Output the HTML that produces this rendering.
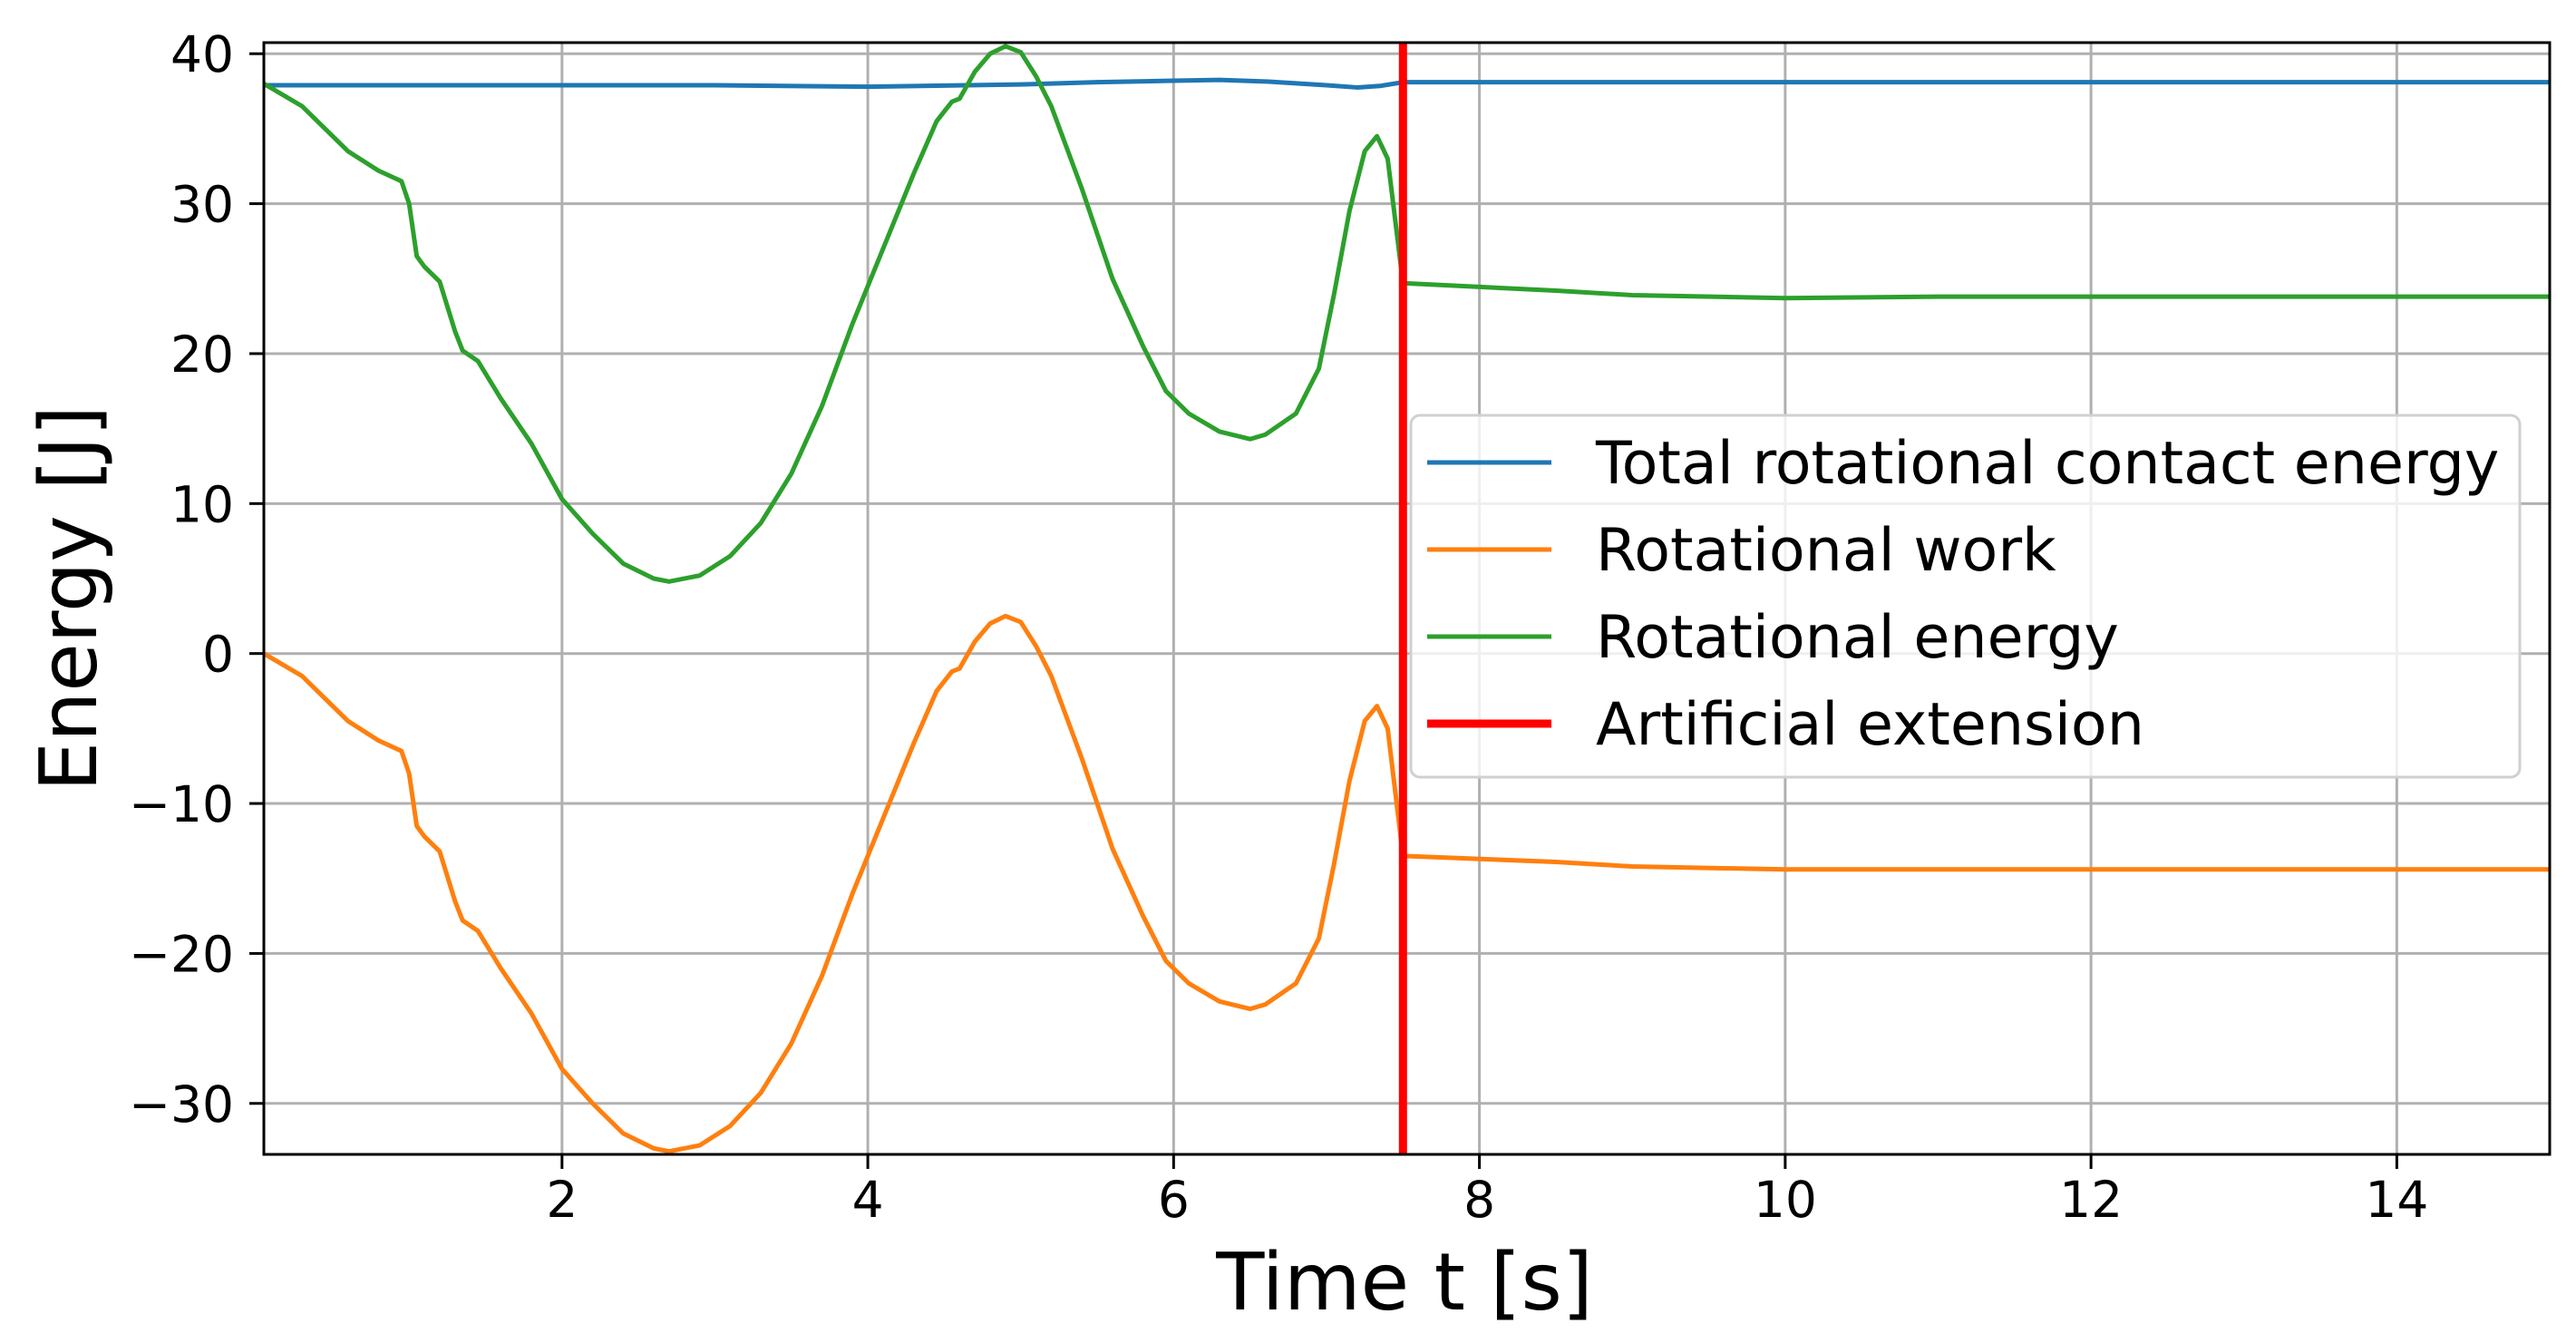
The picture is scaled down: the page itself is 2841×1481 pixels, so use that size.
<!DOCTYPE html>
<html><head><meta charset="utf-8"><style>
html,body{margin:0;padding:0;background:#fff;width:2841px;height:1481px;overflow:hidden}
text{font-family:"DejaVu Sans","Liberation Sans",sans-serif}
</style></head><body>
<svg id="chart" width="2841" height="1481" xmlns="http://www.w3.org/2000/svg"></svg>
<script>
const xTicks=[2,4,6,8,10,12,14];
const yTicks=[-30,-20,-10,0,10,20,30,40];
const tTotal=[0.05,1,2,3,4,5,5.5,6,6.3,6.6,7.0,7.2,7.35,7.5,8,10,12,15];
const vTotal=[37.9,37.9,37.9,37.9,37.8,37.95,38.1,38.2,38.25,38.15,37.9,37.75,37.85,38.1,38.1,38.1,38.1,38.1];
const tRot=[0.05,0.3,0.6,0.8,0.95,1.0,1.05,1.1,1.2,1.3,1.35,1.45,1.6,1.8,2.0,2.2,2.4,2.6,2.7,2.9,3.1,3.3,3.5,3.7,3.9,4.1,4.3,4.45,4.55,4.6,4.7,4.8,4.9,5.0,5.1,5.2,5.4,5.6,5.8,5.95,6.1,6.3,6.5,6.6,6.8,6.95,7.05,7.15,7.25,7.33,7.4,7.5,8.5,9.0,10,11,15];
const vRotEnergy=[38,36.5,33.5,32.2,31.5,30.0,26.5,25.8,24.8,21.5,20.2,19.5,17,14,10.3,8,6,5,4.8,5.2,6.5,8.7,12,16.5,22,27,32,35.5,36.8,37,38.8,40.0,40.5,40.1,38.5,36.5,31,25,20.5,17.5,16,14.8,14.3,14.6,16,19,24,29.5,33.5,34.5,33,24.7,24.2,23.9,23.7,23.8,23.8];
const vRotWork=[0,-1.5,-4.5,-5.8,-6.5,-8.0,-11.5,-12.2,-13.2,-16.5,-17.8,-18.5,-21,-24,-27.7,-30,-32,-33,-33.2,-32.8,-31.5,-29.3,-26,-21.5,-16,-11,-6,-2.5,-1.2,-1,0.8,2.0,2.5,2.1,0.5,-1.5,-7,-13,-17.5,-20.5,-22,-23.2,-23.7,-23.4,-22,-19,-14,-8.5,-4.5,-3.5,-5,-13.5,-13.9,-14.2,-14.4,-14.4,-14.4];
const extensionT=[7.5];

const L=291,R=2812,T=47,B=1273,xmin=0.05,xmax=15,ymin=-33.4,ymax=40.74;
const X=v=>L+(v-xmin)/(xmax-xmin)*(R-L);
const Y=v=>B-(v-ymin)/(ymax-ymin)*(B-T);
const svg=document.getElementById('chart');
const NS='http://www.w3.org/2000/svg';
function mk(tag,attrs,parent){const e=document.createElementNS(NS,tag);for(const k in attrs)e.setAttribute(k,attrs[k]);(parent||svg).appendChild(e);return e;}

xTicks.forEach(t=>{
 const g=mk('line',{x1:X(t),x2:X(t),y1:T,y2:B,stroke:'#b0b0b0','stroke-width':3});
 
 
 const tk=mk('line',{x1:X(t),x2:X(t),y1:B,y2:B+16,stroke:'#000','stroke-width':3});
 
 
 const lb=mk('text',{x:X(t),y:1342,'font-size':55,'text-anchor':'middle',fill:'#000'});
 lb.textContent=t;
 
 
});
yTicks.forEach(v=>{
 const g=mk('line',{x1:L,x2:R,y1:Y(v),y2:Y(v),stroke:'#b0b0b0','stroke-width':3});
 
 
 const tk=mk('line',{x1:L-16,x2:L,y1:Y(v),y2:Y(v),stroke:'#000','stroke-width':3});
 
 
 const lb=mk('text',{x:258,y:Y(v)+20,'font-size':55,'text-anchor':'end',fill:'#000'});
 lb.textContent=v<0?'\u2212'+Math.abs(v):v;
 
 
});

function series(ts,vs,color,name){
 const p=mk('polyline',{points:ts.map((t,i)=>X(t)+','+Y(vs[i])).join(' '),fill:'none',stroke:color,'stroke-width':5,'stroke-linejoin':'round'});
 
 
}
series(tTotal,vTotal,'#1f77b4','total-rotational-contact-energy-line');
series(tRot,vRotWork,'#ff7f0e','rotational-work-line');
series(tRot,vRotEnergy,'#2ca02c','rotational-energy-line');
extensionT.forEach(t=>{
 const r=mk('line',{x1:X(t),x2:X(t),y1:T,y2:B,stroke:'#ff0000','stroke-width':9});
 
 
});

const fr=mk('rect',{x:L,y:T,width:R-L,height:B-T,fill:'none',stroke:'#000','stroke-width':3});



const lg=mk('g',{});


mk('rect',{x:1556,y:458,width:1223,height:399,rx:10,fill:'rgba(255,255,255,0.8)',stroke:'#d0d0d0','stroke-width':3},lg);
const entries=[['Total rotational contact energy','#1f77b4',5],['Rotational work','#ff7f0e',5],['Rotational energy','#2ca02c',5],['Artificial extension','#ff0000',9]];
entries.forEach((e,i)=>{
 const cy=510+i*96;
 const g=mk('g',{},lg);
 
 
 mk('line',{x1:1574,x2:1711,y1:cy,y2:cy,stroke:e[1],'stroke-width':e[2]},g);
 const t=mk('text',{x:1760,y:cy+23,'font-size':65,fill:'#000'},g);
 t.textContent=e[0];
});

const xl=mk('text',{x:1549,y:1444,'font-size':87,'text-anchor':'middle',fill:'#000'});
xl.textContent='Time t [s]';


const yl=mk('text',{x:0,y:0,'font-size':87,'text-anchor':'middle',fill:'#000',transform:'translate(106,660) rotate(-90)'});
yl.textContent='Energy [J]';


</script>
</body></html>
